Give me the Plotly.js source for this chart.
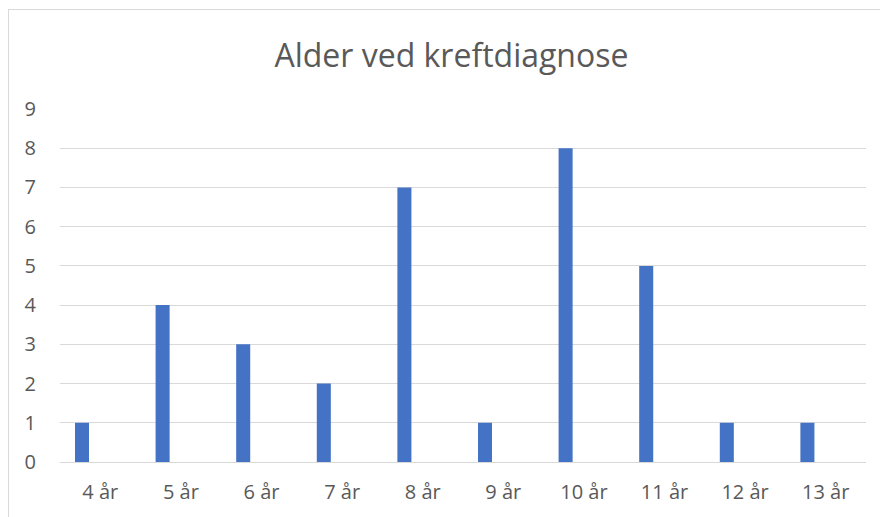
<!DOCTYPE html>
<html><head><meta charset="utf-8">
<script src="https://cdn.plot.ly/plotly-3.0.1.min.js"></script>
<style>
html,body{margin:0;padding:0;background:#fff;overflow:hidden;}
#frame{position:absolute;left:8px;top:9px;width:900px;height:600px;border:1px solid #d9d9d9;box-sizing:border-box;}
#chart{position:absolute;left:0;top:0;width:880px;height:517px;}
</style></head>
<body>
<div id="frame"></div>
<div id="chart"></div>
<script>
const categories = ["4 år","5 år","6 år","7 år","8 år","9 år","10 år","11 år","12 år","13 år"];
const counts = [1,4,3,2,7,1,8,5,1,1];
const titleText = "Alder ved kreftdiagnose";

const font = "'Open Sans', 'Noto Sans', sans-serif";
Plotly.newPlot('chart', [{
  type:'bar', x:categories, y:counts,
  marker:{color:'#4472c4'},
  width:0.174, offset:-0.314,
  hoverinfo:'x+y'
}], {
  width:880, height:517,
  margin:{l:60, r:14, t:109, b:55},
  paper_bgcolor:'rgba(0,0,0,0)', plot_bgcolor:'rgba(0,0,0,0)',
  title:{text:titleText, x:0.513, xanchor:'center', y:0.893, yanchor:'middle',
    font:{family:font, size:32, color:'#595959'}},
  xaxis:{type:'category', range:[-0.5,9.5], showgrid:false, zeroline:false,
    showline:false, ticks:'', ticklabelstandoff:16,
    tickfont:{family:font, size:20, color:'#595959'}},
  yaxis:{range:[0,9], dtick:1, tick0:0, showgrid:true, gridcolor:'#d9d9d9', gridwidth:1,
    zeroline:true, zerolinecolor:'#d9d9d9', zerolinewidth:1, showline:false, ticks:'',
    ticklabelstandoff:23, tickfont:{family:font, size:20, color:'#595959'}},
  showlegend:false
}, {displayModeBar:false, staticPlot:true});
</script>
</body></html>
